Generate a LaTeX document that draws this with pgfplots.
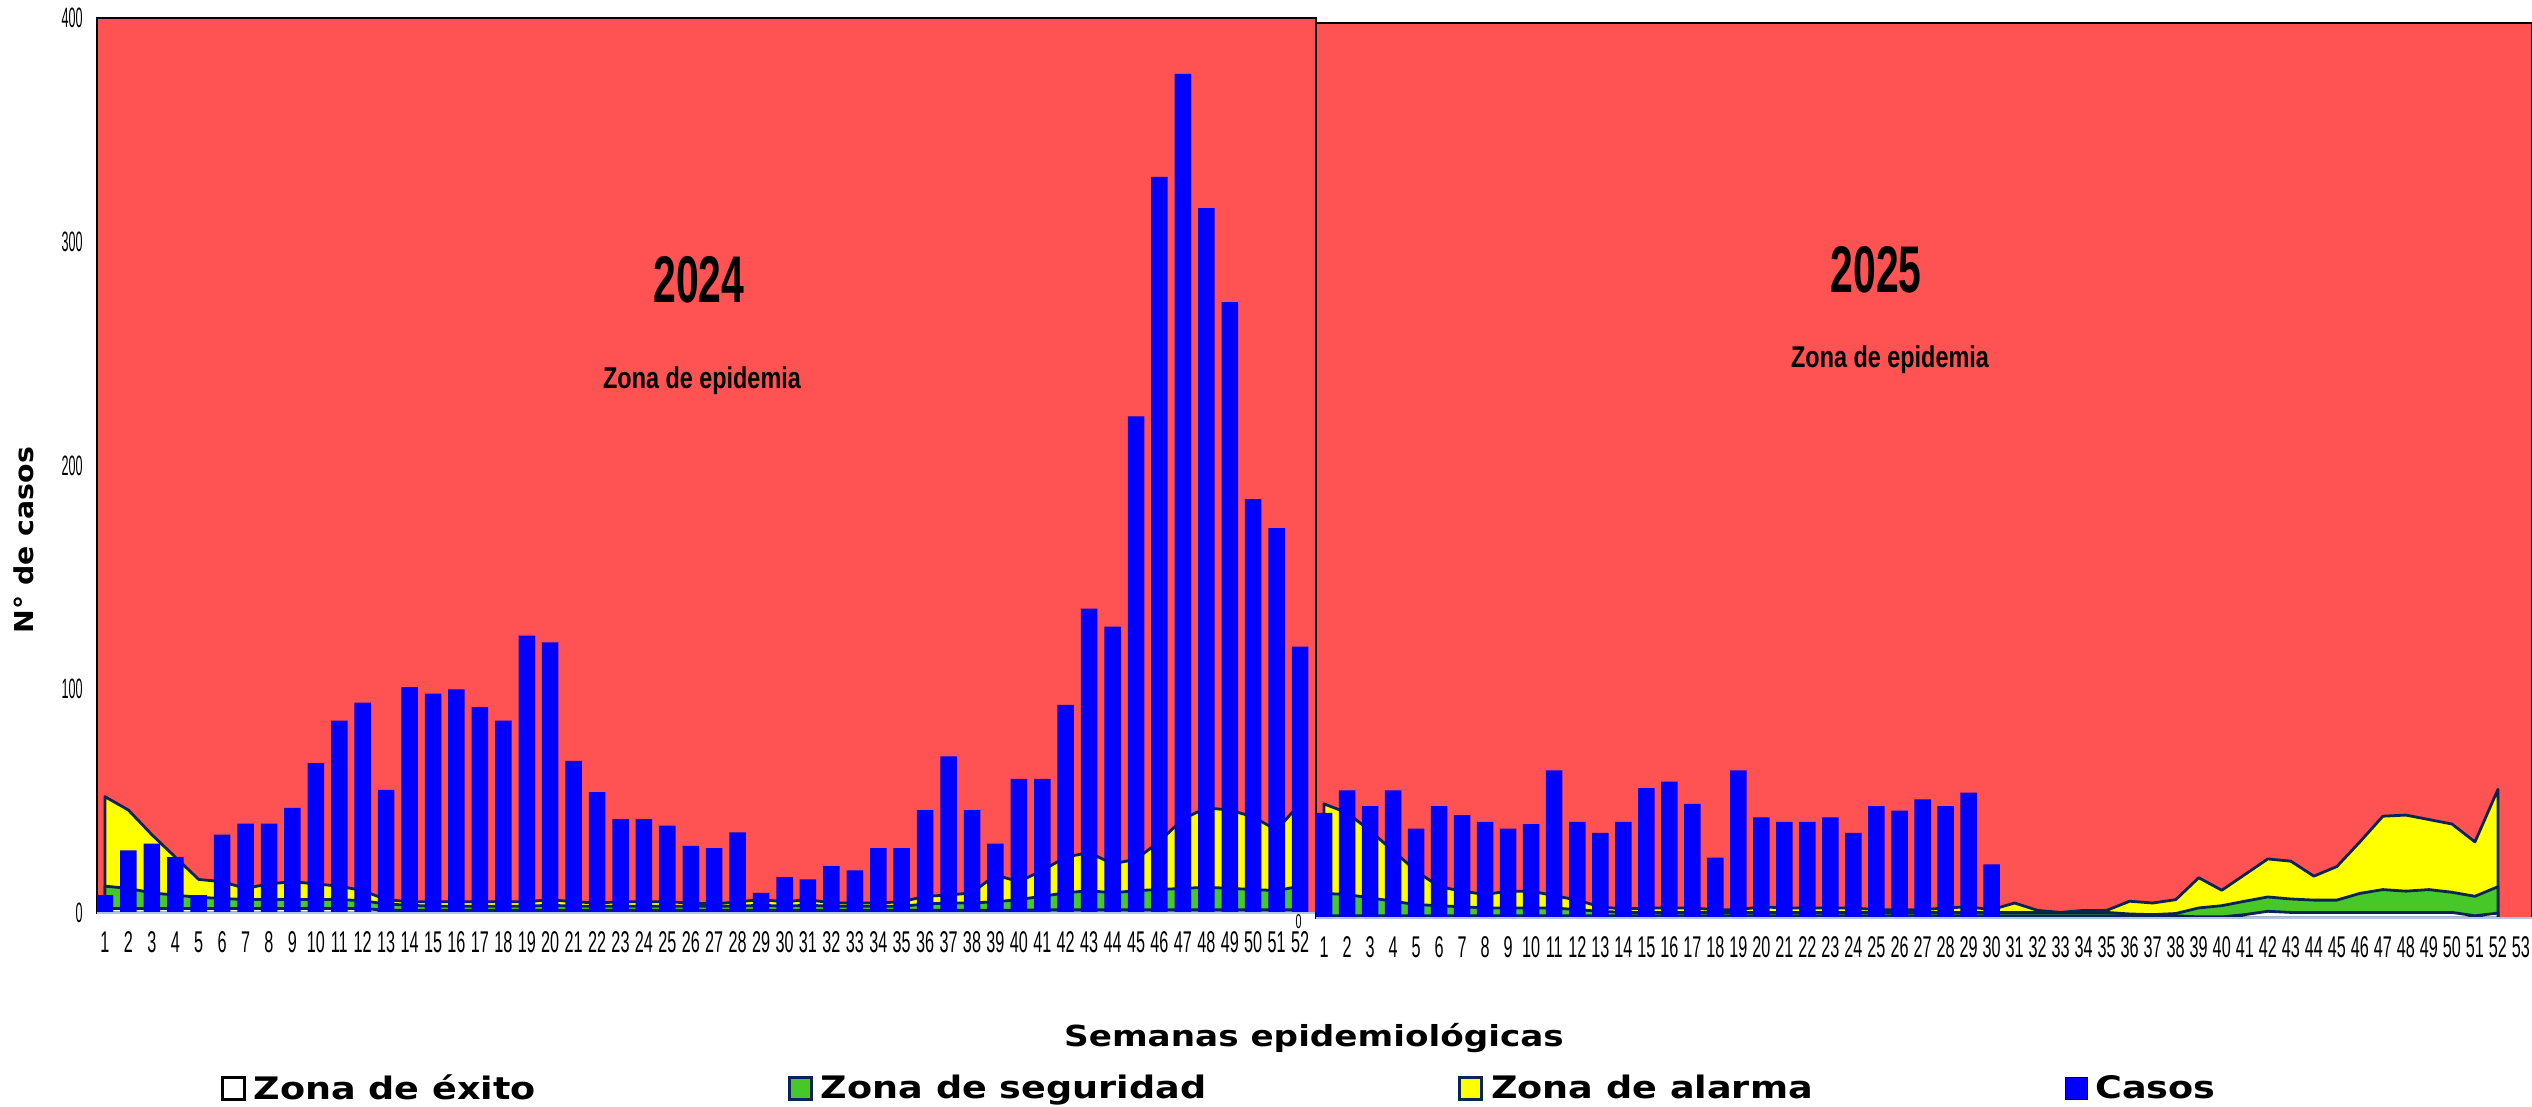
\documentclass[border=0pt]{standalone}
\usepackage{fontspec}
\usepackage{pgfplots}
\pgfplotsset{compat=1.18}
\setmainfont{Liberation Sans}
\newfontfamily\tickfont{Liberation Sans}[FakeStretch=0.54]
\newfontfamily\ytickfont{Liberation Sans}[FakeStretch=0.45]
\newfontfamily\yearfont{Liberation Sans}[FakeStretch=0.62]
\newfontfamily\zonafont{Liberation Sans}[FakeStretch=0.78]
\newfontfamily\widefont{DejaVu Sans}[FakeStretch=1.09]
\newfontfamily\legfont{DejaVu Sans}[FakeStretch=1.18]

\definecolor{epired}{RGB}{255,82,82}
\definecolor{alarma}{RGB}{255,255,0}
\definecolor{seguridad}{RGB}{72,200,40}
\definecolor{linea}{RGB}{12,36,84}
\definecolor{casos}{RGB}{0,0,255}
\definecolor{base}{RGB}{175,195,235}

\pgfplotsset{
  canal/.style={
    scale only axis, height=447.5pt, ymin=0, ymax=400,
    axis background/.style={fill=epired},
    axis line style={black, line width=1pt},
    major tick length=0pt,
    /pgf/number format/assume math mode=true,
    xticklabel style={font=\tickfont\fontsize{15}{15}\selectfont, inner sep=0pt, anchor=north, yshift=-9pt},
  },
  zona/.style={draw=linea, line width=1.4pt, line join=round, fill=#1, forget plot},
  casos/.style={ybar, bar width=8.25pt, fill=casos, draw=none, forget plot},
}

\begin{document}
\begin{tikzpicture}
\path[use as bounding box] (0pt,0pt) rectangle (1266pt,-553.5pt);

% ---------- 2024 ----------
\begin{axis}[canal,
  at={(48.5pt,-456.5pt)}, anchor=south west, width=609.5pt,
  xmin=0.66, xmax=52.68,
  xtick={1,...,52},
  ytick={0,100,200,300,400},
  yticklabel style={font=\ytickfont\fontsize{14}{14}\selectfont, inner sep=0pt, anchor=east, xshift=-7pt},
  legend columns=4,
  legend image code/.code={\draw[#1] (0pt,-5.5pt) rectangle (11pt,5.5pt); \path (13pt,0pt);},
  legend style={at={(0.101,-0.196)}, anchor=west, draw=none, fill=none, inner sep=0pt,
    font=\legfont\bfseries\fontsize{15.5}{15.5}\selectfont,
    /tikz/every even column/.append style={column sep=124pt}},
]
\addplot[zona=alarma] coordinates {(1,52) (2,46) (3,35) (4,25) (5,15) (6,14) (7,11) (8,13) (9,14) (10,13) (11,12) (12,10) (13,6) (14,5) (15,5) (16,5) (17,5) (18,5) (19,5) (20,6) (21,5) (22,4.5) (23,5) (24,5) (25,5) (26,4.5) (27,4) (28,5) (29,6) (30,5) (31,6) (32,4.5) (33,4.5) (34,4.5) (35,5) (36,7.5) (37,8) (38,9) (39,17) (40,14) (41,19) (42,25) (43,27) (44,22) (45,24) (46,32) (47,42) (48,47) (49,46) (50,43) (51,37) (52,49)} \closedcycle;
\addplot[zona=seguridad] coordinates {(1,12) (2,11) (3,9) (4,8) (5,7) (6,6.5) (7,6) (8,6) (9,6) (10,6) (11,6) (12,5.5) (13,4) (14,3.5) (15,3) (16,3) (17,3) (18,3) (19,3) (20,3.5) (21,3) (22,3) (23,3) (24,3) (25,3) (26,3) (27,3) (28,3) (29,3.5) (30,3) (31,3.5) (32,3) (33,3) (34,3) (35,3) (36,4) (37,4.5) (38,4.5) (39,5) (40,6) (41,7.5) (42,9) (43,10) (44,9) (45,10) (46,10.5) (47,11) (48,11.5) (49,11) (50,10.5) (51,10) (52,12)} \closedcycle;
\addplot[zona=white] coordinates {(1,2) (2,2) (3,2) (4,2) (5,2) (6,2) (7,2) (8,2) (9,2) (10,2) (11,2) (12,2) (13,1.2) (14,1.2) (15,1.2) (16,1.2) (17,1.2) (18,1.2) (19,1.2) (20,1.2) (21,1.2) (22,1.2) (23,1.2) (24,1.2) (25,1.2) (26,1.2) (27,1.2) (28,1.2) (29,1.2) (30,1.2) (31,1.2) (32,1.2) (33,1.2) (34,1.2) (35,1.2) (36,1.2) (37,1.2) (38,1.2) (39,1.2) (40,1.2) (41,1.5) (42,1.5) (43,1.5) (44,1.5) (45,1.5) (46,1.5) (47,1.5) (48,1.5) (49,1.5) (50,1.5) (51,1.5) (52,1.5)} \closedcycle;
\addplot[casos] coordinates {(1,8) (2,28) (3,31) (4,25) (5,8) (6,35) (7,40) (8,40) (9,47) (10,67) (11,86) (12,94) (13,55) (14,101) (15,98) (16,100) (17,92) (18,86) (19,124) (20,121) (21,68) (22,54) (23,42) (24,42) (25,39) (26,30) (27,29) (28,36) (29,9) (30,16) (31,15) (32,21) (33,19) (34,29) (35,29) (36,46) (37,70) (38,46) (39,31) (40,60) (41,60) (42,93) (43,136) (44,128) (45,222) (46,329) (47,375) (48,315) (49,273) (50,185) (51,172) (52,119)};
\draw[base, line width=1.2pt] (rel axis cs:0,0) -- (rel axis cs:1,0);
\addlegendimage{draw=black, line width=1.5pt, fill=white}
\addlegendentry{Zona de éxito}
\addlegendimage{draw=linea, line width=1.5pt, fill=seguridad}
\addlegendentry{Zona de seguridad}
\addlegendimage{draw=linea, line width=1.5pt, fill=alarma}
\addlegendentry{Zona de alarma}
\addlegendimage{draw=none, fill=casos}
\addlegendentry{Casos}
\end{axis}

% ---------- 2025 ----------
\begin{axis}[canal,
  at={(658pt,-459pt)}, anchor=south west, width=608pt,
  xmin=0.65, xmax=53.48,
  xtick={1,...,53},
  ytick={0},
  yticklabel style={font=\tickfont\fontsize{10}{10}\selectfont, inner sep=0pt, anchor=east, xshift=-7pt, yshift=-2pt},
]
\addplot[zona=alarma] coordinates {(1,51) (2,47) (3,39) (4,30) (5,21) (6,14) (7,12) (8,10.5) (9,12) (10,12) (11,10) (12,8) (13,5) (14,4) (15,4.5) (16,4.5) (17,4.5) (18,3.7) (19,3.7) (20,5) (21,4.5) (22,4.5) (23,4.5) (24,4.5) (25,3.7) (26,3.7) (27,3.7) (28,4.5) (29,5) (30,3.7) (31,6.7) (32,3.4) (33,2.5) (34,3.4) (35,3.4) (36,7.5) (37,6.7) (38,8.2) (39,18) (40,12.4) (41,19.4) (42,26.4) (43,25.4) (44,18.7) (45,23) (46,34) (47,45.5) (48,46) (49,44) (50,42) (51,34) (52,57.5)} \closedcycle;
\addplot[zona=seguridad] coordinates {(1,11) (2,10.5) (3,9) (4,7.5) (5,6) (6,5.5) (7,5) (8,4.5) (9,4.5) (10,4.5) (11,4.5) (12,3.7) (13,3) (14,2.5) (15,2.5) (16,2.5) (17,2.5) (18,2.5) (19,2.5) (20,2.5) (21,2.5) (22,2.5) (23,2.5) (24,2.5) (25,2.5) (26,2.5) (27,2.5) (28,2.5) (29,2.5) (30,2.5) (31,2.5) (32,2.5) (33,2.5) (34,2.5) (35,2.5) (36,1.8) (37,1.5) (38,2) (39,4.5) (40,5.5) (41,7.5) (42,9.4) (43,8.5) (44,8) (45,8) (46,11) (47,12.7) (48,12) (49,12.7) (50,11.5) (51,9.7) (52,14)} \closedcycle;
\addplot[zona=white] coordinates {(1,1) (2,1) (3,1) (4,1) (5,1) (6,1) (7,1) (8,1) (9,1) (10,1) (11,1) (12,1) (13,1) (14,1) (15,1) (16,1) (17,1) (18,1) (19,1) (20,1) (21,1) (22,1) (23,1) (24,1) (25,1) (26,1) (27,1) (28,1) (29,1) (30,1) (31,1) (32,1) (33,1) (34,1) (35,1) (36,1) (37,1) (38,1) (39,0.5) (40,0.5) (41,1.5) (42,3) (43,2.5) (44,2.5) (45,2.5) (46,2.5) (47,2.5) (48,2.5) (49,2.5) (50,2.5) (51,1) (52,2.2)} \closedcycle;
\addplot[casos] coordinates {(1,47) (2,57) (3,50) (4,57) (5,40) (6,50) (7,46) (8,43) (9,40) (10,42) (11,66) (12,43) (13,38) (14,43) (15,58) (16,61) (17,51) (18,27) (19,66) (20,45) (21,43) (22,43) (23,45) (24,38) (25,50) (26,48) (27,53) (28,50) (29,56) (30,24)};
\draw[base, line width=1.2pt] (rel axis cs:0,0) -- (rel axis cs:1,0);
\end{axis}

% ---------- texts ----------
\node[rotate=90, font=\widefont\bfseries\fontsize{13}{13}\selectfont] at (12pt,-270pt) {N°\ de\ casos};
\node[font=\legfont\bfseries\fontsize{14.5}{14.5}\selectfont] at (657pt,-519pt) {Semanas epidemiológicas};
\node[font=\yearfont\bfseries\fontsize{33}{33}\selectfont] at (349.5pt,-140pt) {2024};
\node[font=\zonafont\bfseries\fontsize{15}{15}\selectfont] at (351pt,-190.5pt) {Zona de epidemia};
\node[font=\yearfont\bfseries\fontsize{33}{33}\selectfont] at (938pt,-135pt) {2025};
\node[font=\zonafont\bfseries\fontsize{15}{15}\selectfont] at (945pt,-180pt) {Zona de epidemia};
\end{tikzpicture}
\end{document}
